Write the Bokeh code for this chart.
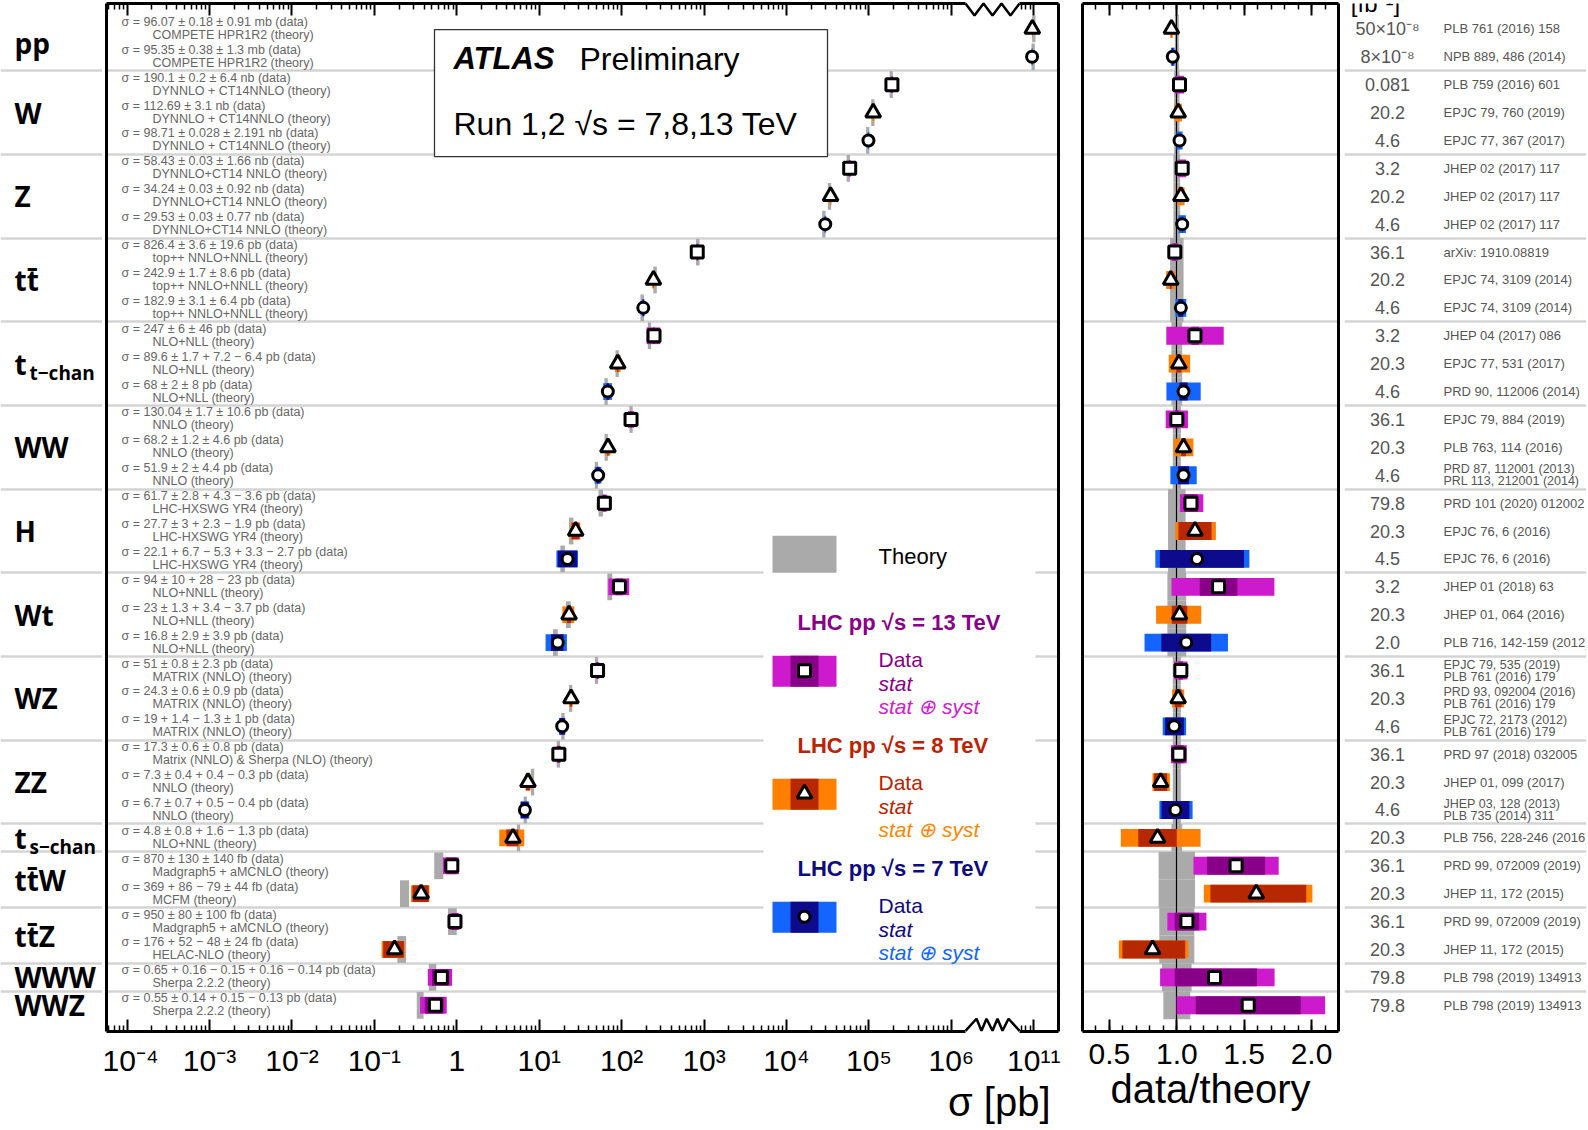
import numpy as np
from bokeh.plotting import figure
from bokeh.models import (Range1d, FixedTicker, LinearAxis, NumeralTickFormatter,
                          BoxAnnotation, ColumnDataSource)
from bokeh.layouts import row
from bokeh.embed import file_html
from bokeh.resources import INLINE
from bokeh.core.properties import value

# ---------------- data ----------------
group_labels = ["pp", "W", "Z", "tt\u0304", "t", "WW", "H", "Wt", "WZ", "ZZ", "t",
                "tt\u0304W", "tt\u0304Z", "WWW", "WWZ"]
group_subscripts = ["", "", "", "", "t\u2212chan", "", "", "", "", "", "s\u2212chan",
                    "", "", "", ""]
group_sizes = [2, 3, 3, 3, 3, 3, 3, 3, 3, 3, 1, 2, 2, 1, 1]

energy_tev = [8, 7, 13, 8, 7, 13, 8, 7, 13, 8, 7, 13, 8, 7, 13, 8, 7, 13, 8, 7,
              13, 8, 7, 13, 8, 7, 13, 8, 7, 8, 13, 8, 13, 8, 13, 13]

xsec_pb = [96.07e9, 95.35e9, 190.1e3, 112.69e3, 98.71e3, 58.43e3, 34.24e3, 29.53e3,
           826.4, 242.9, 182.9, 247.0, 89.6, 68.0, 130.04, 68.2, 51.9,
           61.7, 27.7, 22.1, 94.0, 23.0, 16.8, 51.0, 24.3, 19.0, 17.3, 7.3, 6.7,
           4.8, 0.870, 0.369, 0.950, 0.176, 0.65, 0.55]
stat_up_pb = [0.18e9, 0.38e9, 0.2e3, 0.0, 0.028e3, 0.03e3, 0.03e3, 0.03e3,
              3.6, 1.7, 3.1, 6.0, 1.7, 2.0, 1.7, 1.2, 2.0,
              2.8, 3.0, 6.7, 10.0, 1.3, 2.9, 0.8, 0.6, 1.4, 0.6, 0.4, 0.7,
              0.8, 0.130, 0.086, 0.080, 0.052, 0.16, 0.14]
stat_dn_pb = [0.18e9, 0.38e9, 0.2e3, 0.0, 0.028e3, 0.03e3, 0.03e3, 0.03e3,
              3.6, 1.7, 3.1, 6.0, 1.7, 2.0, 1.7, 1.2, 2.0,
              2.8, 3.0, 5.3, 10.0, 1.3, 2.9, 0.8, 0.6, 1.3, 0.6, 0.4, 0.7,
              0.8, 0.130, 0.079, 0.080, 0.048, 0.15, 0.14]
syst_up_pb = [0.91e9, 1.3e9, 6.4e3, 3.1e3, 2.191e3, 1.66e3, 0.92e3, 0.77e3,
              19.6, 8.6, 6.4, 46.0, 7.2, 8.0, 10.6, 4.6, 4.4,
              4.3, 2.3, 3.3, 28.0, 3.4, 3.9, 2.3, 0.9, 1.0, 0.8, 0.4, 0.5,
              1.6, 0.140, 0.044, 0.100, 0.024, 0.16, 0.15]
syst_dn_pb = [0.91e9, 1.3e9, 6.4e3, 3.1e3, 2.191e3, 1.66e3, 0.92e3, 0.77e3,
              19.6, 8.6, 6.4, 46.0, 6.4, 8.0, 10.6, 4.6, 4.4,
              3.6, 1.9, 2.7, 23.0, 3.7, 3.9, 2.3, 0.9, 1.0, 0.8, 0.3, 0.4,
              1.3, 0.140, 0.044, 0.100, 0.024, 0.14, 0.13]
data_over_theory = [0.96, 0.97, 1.02, 1.01, 1.02, 1.04, 1.03, 1.04, 0.985, 0.955,
                    1.03, 1.135, 1.015, 1.05, 1.0, 1.05, 1.05, 1.105, 1.135, 1.15,
                    1.31, 1.02, 1.07, 1.03, 1.01, 0.98, 1.015, 0.88, 0.99, 0.857,
                    1.44, 1.59, 1.075, 0.82, 1.28, 1.53]
theory_rel_unc = [0.015, 0.015, 0.02, 0.02, 0.02, 0.025, 0.025, 0.025, 0.05, 0.05,
                  0.05, 0.04, 0.04, 0.04, 0.03, 0.03, 0.03, 0.065, 0.065, 0.065,
                  0.07, 0.07, 0.07, 0.03, 0.03, 0.03, 0.03, 0.03, 0.03, 0.04,
                  0.135, 0.135, 0.13, 0.13, 0.11, 0.10]

data_text = [
    "\u03c3 = 96.07 \u00b1 0.18 \u00b1 0.91 mb (data)",
    "\u03c3 = 95.35 \u00b1 0.38 \u00b1 1.3 mb (data)",
    "\u03c3 = 190.1 \u00b1 0.2 \u00b1 6.4 nb (data)",
    "\u03c3 = 112.69 \u00b1 3.1 nb (data)",
    "\u03c3 = 98.71 \u00b1 0.028 \u00b1 2.191 nb (data)",
    "\u03c3 = 58.43 \u00b1 0.03 \u00b1 1.66 nb (data)",
    "\u03c3 = 34.24 \u00b1 0.03 \u00b1 0.92 nb (data)",
    "\u03c3 = 29.53 \u00b1 0.03 \u00b1 0.77 nb (data)",
    "\u03c3 = 826.4 \u00b1 3.6 \u00b1 19.6 pb (data)",
    "\u03c3 = 242.9 \u00b1 1.7 \u00b1 8.6 pb (data)",
    "\u03c3 = 182.9 \u00b1 3.1 \u00b1 6.4 pb (data)",
    "\u03c3 = 247 \u00b1 6 \u00b1 46 pb (data)",
    "\u03c3 = 89.6 \u00b1 1.7 + 7.2 \u2212 6.4 pb (data)",
    "\u03c3 = 68 \u00b1 2 \u00b1 8 pb (data)",
    "\u03c3 = 130.04 \u00b1 1.7 \u00b1 10.6 pb (data)",
    "\u03c3 = 68.2 \u00b1 1.2 \u00b1 4.6 pb (data)",
    "\u03c3 = 51.9 \u00b1 2 \u00b1 4.4 pb (data)",
    "\u03c3 = 61.7 \u00b1 2.8 + 4.3 \u2212 3.6 pb (data)",
    "\u03c3 = 27.7 \u00b1 3 + 2.3 \u2212 1.9 pb (data)",
    "\u03c3 = 22.1 + 6.7 \u2212 5.3 + 3.3 \u2212 2.7 pb (data)",
    "\u03c3 = 94 \u00b1 10 + 28 \u2212 23 pb (data)",
    "\u03c3 = 23 \u00b1 1.3 + 3.4 \u2212 3.7 pb (data)",
    "\u03c3 = 16.8 \u00b1 2.9 \u00b1 3.9 pb (data)",
    "\u03c3 = 51 \u00b1 0.8 \u00b1 2.3 pb (data)",
    "\u03c3 = 24.3 \u00b1 0.6 \u00b1 0.9 pb (data)",
    "\u03c3 = 19 + 1.4 \u2212 1.3 \u00b1 1 pb (data)",
    "\u03c3 = 17.3 \u00b1 0.6 \u00b1 0.8 pb (data)",
    "\u03c3 = 7.3 \u00b1 0.4 + 0.4 \u2212 0.3 pb (data)",
    "\u03c3 = 6.7 \u00b1 0.7 + 0.5 \u2212 0.4 pb (data)",
    "\u03c3 = 4.8 \u00b1 0.8 + 1.6 \u2212 1.3 pb (data)",
    "\u03c3 = 870 \u00b1 130 \u00b1 140 fb (data)",
    "\u03c3 = 369 + 86 \u2212 79 \u00b1 44 fb (data)",
    "\u03c3 = 950 \u00b1 80 \u00b1 100 fb (data)",
    "\u03c3 = 176 + 52 \u2212 48 \u00b1 24 fb (data)",
    "\u03c3 = 0.65 + 0.16 \u2212 0.15 + 0.16 \u2212 0.14 pb (data)",
    "\u03c3 = 0.55 \u00b1 0.14 + 0.15 \u2212 0.13 pb (data)",
]
theory_text = [
    "COMPETE HPR1R2 (theory)", "COMPETE HPR1R2 (theory)",
    "DYNNLO + CT14NNLO (theory)", "DYNNLO + CT14NNLO (theory)", "DYNNLO + CT14NNLO (theory)",
    "DYNNLO+CT14 NNLO (theory)", "DYNNLO+CT14 NNLO (theory)", "DYNNLO+CT14 NNLO (theory)",
    "top++ NNLO+NNLL (theory)", "top++ NNLO+NNLL (theory)", "top++ NNLO+NNLL (theory)",
    "NLO+NLL (theory)", "NLO+NLL (theory)", "NLO+NLL (theory)",
    "NNLO (theory)", "NNLO (theory)", "NNLO (theory)",
    "LHC-HXSWG YR4 (theory)", "LHC-HXSWG YR4 (theory)", "LHC-HXSWG YR4 (theory)",
    "NLO+NNLL (theory)", "NLO+NLL (theory)", "NLO+NLL (theory)",
    "MATRIX (NNLO) (theory)", "MATRIX (NNLO) (theory)", "MATRIX (NNLO) (theory)",
    "Matrix (NNLO) & Sherpa (NLO) (theory)", "NNLO (theory)", "NNLO (theory)",
    "NLO+NNL (theory)",
    "Madgraph5 + aMCNLO (theory)", "MCFM (theory)",
    "Madgraph5 + aMCNLO (theory)", "HELAC-NLO (theory)",
    "Sherpa 2.2.2 (theory)", "Sherpa 2.2.2 (theory)",
]
lumi_text = ["50\u00d710\u207b\u2078", "8\u00d710\u207b\u2078", "0.081", "20.2", "4.6",
             "3.2", "20.2", "4.6", "36.1", "20.2", "4.6", "3.2", "20.3", "4.6",
             "36.1", "20.3", "4.6", "79.8", "20.3", "4.5", "3.2", "20.3", "2.0",
             "36.1", "20.3", "4.6", "36.1", "20.3", "4.6", "20.3", "36.1", "20.3",
             "36.1", "20.3", "79.8", "79.8"]
ref_line1 = ["PLB 761 (2016) 158", "NPB 889, 486 (2014)", "PLB 759 (2016) 601",
             "EPJC 79, 760 (2019)", "EPJC 77, 367 (2017)", "JHEP 02 (2017) 117",
             "JHEP 02 (2017) 117", "JHEP 02 (2017) 117", "arXiv: 1910.08819",
             "EPJC 74, 3109 (2014)", "EPJC 74, 3109 (2014)", "JHEP 04 (2017) 086",
             "EPJC 77, 531 (2017)", "PRD 90, 112006 (2014)", "EPJC 79, 884 (2019)",
             "PLB 763, 114 (2016)", "PRD 87, 112001 (2013)", "PRD 101 (2020) 012002",
             "EPJC 76, 6 (2016)", "EPJC 76, 6 (2016)", "JHEP 01 (2018) 63",
             "JHEP 01, 064 (2016)", "PLB 716, 142-159 (2012)", "EPJC 79, 535 (2019)",
             "PRD 93, 092004 (2016)", "EPJC 72, 2173 (2012)", "PRD 97 (2018) 032005",
             "JHEP 01, 099 (2017)", "JHEP 03, 128 (2013)", "PLB 756, 228-246 (2016)",
             "PRD 99, 072009 (2019)", "JHEP 11, 172 (2015)", "PRD 99, 072009 (2019)",
             "JHEP 11, 172 (2015)", "PLB 798 (2019) 134913", "PLB 798 (2019) 134913"]
ref_line2 = ["", "", "", "", "", "", "", "", "", "", "", "", "", "",
             "", "", "PRL 113, 212001 (2014)", "", "", "", "", "", "",
             "PLB 761 (2016) 179", "PLB 761 (2016) 179", "PLB 761 (2016) 179",
             "", "", "PLB 735 (2014) 311", "", "", "", "", "", "", ""]

x_major_ticks = [-4, -3, -2, -1, 0, 1, 2, 3, 4, 5, 6, 7]
x_major_labels = ["10\u207b\u2074", "10\u207b\u00b3", "10\u207b\u00b2", "10\u207b\u00b9", "1",
                  "10\u00b9", "10\u00b2", "10\u00b3", "10\u2074", "10\u2075", "10\u2076",
                  "10\u00b9\u00b9"]
ratio_major_ticks = [0.5, 1.0, 1.5, 2.0]
x_title = "\u03c3 [pb]"
ratio_title = "data/theory"

# ---------------- styling constants ----------------
OUTER = {13: "#CC1ACC", 8: "#FF8000", 7: "#1464FF"}
INNER = {13: "#880088", 8: "#B82800", 7: "#0E0A8C"}
TITLE = {13: "#880088", 8: "#BB2200", 7: "#0E0A80"}
LIGHT = {13: "#CC22CC", 8: "#FF8800", 7: "#1464FF"}
MARK = {13: "square", 8: "triangle", 7: "circle"}
MSIZE = {13: 12, 8: 15, 7: 11}
THEORY = "#AAAAAA"
SEP = "#D4D4D4"
FONT_NAME = "Liberation Sans"
FONT = value(FONT_NAME)
BOLDFONT = value("Open Sans")

H_ROW = 1128
MB_TOP, MB_BOT = 3, 97
XMIN, XMAX = -4.25, 7.3
YTOP, YBOT = -0.91, 35.94


def xb(px):   # reference pixel x -> left-panel axis units
    return XMIN + (px - 106.0) * (XMAX - XMIN) / 952.0


def yr(py):   # reference pixel y -> row units
    return (py - 28.35) / 27.89


def to_axis(v):  # log10 with the axis break (10^11 drawn where 10^7 would be)
    lv = np.log10(np.asarray(v, dtype=float))
    return np.where(lv > 8.5, lv - 4.0, lv)


# ---------------- derived ----------------
n = len(xsec_pb)
rows = np.arange(n, dtype=float)
xs = np.array(xsec_pb)
st_u, st_d = np.array(stat_up_pb), np.array(stat_dn_pb)
tot_u = np.hypot(st_u, np.array(syst_up_pb))
tot_d = np.hypot(st_d, np.array(syst_dn_pb))
rat = np.array(data_over_theory)
th = xs / rat
terr = np.array(theory_rel_unc)

ends = np.cumsum(group_sizes)
sep_rows = [float(v) for v in (ends[:-1] - 0.5)]
group_centers = [float(v) for v in (ends - np.array(group_sizes) + (np.array(group_sizes) - 1) / 2.0)]

outer_c = [OUTER[e] for e in energy_tev]
inner_c = [INNER[e] for e in energy_tev]
marks = [MARK[e] for e in energy_tev]
msize = [MSIZE[e] for e in energy_tev]

yrange = Range1d(YBOT, YTOP)

common = dict(output_backend="svg", toolbar_location=None, x_axis_type=None,
              y_axis_type=None, min_border_top=MB_TOP, min_border_bottom=MB_BOT,
              outline_line_color=None, background_fill_color="white",
              border_fill_color="white")

axis_style = dict(axis_line_width=3, axis_line_color="black",
                  major_tick_in=12, major_tick_out=0, minor_tick_in=6, minor_tick_out=0,
                  major_tick_line_width=2, minor_tick_line_width=1.5,
                  major_tick_line_color="black", minor_tick_line_color="black")


def add_frame_axes(p, ticks, minor, title, formatter=None, overrides=None):
    below = LinearAxis(ticker=FixedTicker(ticks=ticks, minor_ticks=minor),
                       major_label_standoff=12, major_label_text_font=FONT_NAME,
                       major_label_text_font_size="30px", major_label_text_color="black",
                       axis_label=title,
                       axis_label_text_font=FONT_NAME, axis_label_text_font_size="40px",
                       axis_label_text_font_style="normal", axis_label_standoff=0,
                       axis_label_text_color="black", **axis_style)
    if formatter is not None:
        below.formatter = formatter
    if overrides is not None:
        below.major_label_overrides = overrides
    p.add_layout(below, "below")
    above = LinearAxis(ticker=FixedTicker(ticks=ticks, minor_ticks=minor),
                       major_label_text_color=None, major_label_standoff=0, **axis_style)
    p.add_layout(above, "above")
    for side in ("left", "right"):
        ax = LinearAxis(ticker=FixedTicker(ticks=[], minor_ticks=[]),
                        major_label_text_color=None, major_label_standoff=0,
                        axis_line_width=3, axis_line_color="black",
                        major_tick_in=0, major_tick_out=0, minor_tick_in=0, minor_tick_out=0)
        p.add_layout(ax, side)


# ---------------- A: process labels ----------------
pA = figure(width=102, height=H_ROW, x_range=Range1d(0, 102), y_range=yrange,
            min_border_left=0, min_border_right=0, **common)
pA.hspan(y=sep_rows, line_color=SEP, line_width=2.5)
pA.text(x=[14] * len(group_labels), y=group_centers, text=group_labels,
        text_font=BOLDFONT, text_font_style="bold", text_font_size="28px",
        text_baseline="middle", text_align="left", text_color="black")
sub_idx = [i for i, s in enumerate(group_subscripts) if s]
pA.text(x=[29] * len(sub_idx), y=[group_centers[i] for i in sub_idx],
        text=[group_subscripts[i] for i in sub_idx], y_offset=9,
        text_font=BOLDFONT, text_font_style="bold", text_font_size="19px",
        text_baseline="middle", text_align="left", text_color="black")

# ---------------- B: cross sections ----------------
pB = figure(width=968, height=H_ROW, x_range=Range1d(XMIN, XMAX), y_range=yrange,
            min_border_left=4, min_border_right=12, **common)
minor_B = [float(d + np.log10(k)) for d in range(-5, 7) for k in range(2, 10)
           if XMIN < d + np.log10(k) < 6.8] + [float(6 + np.log10(k)) for k in (7, 8, 9)]
# the title sits at the right end of the panel: pad it with no-break spaces
add_frame_axes(pB, x_major_ticks, minor_B, "\u00a0" * 75 + x_title,
               overrides={t: l for t, l in zip(x_major_ticks, x_major_labels)})
pB.hspan(y=sep_rows, line_color=SEP, line_width=2.5)

# theory bars (grey)
th_c = to_axis(th)
th_hw = np.maximum(np.log10(1 + terr), 0.02)
pB.quad(left=th_c - th_hw, right=th_c + th_hw, top=rows - 0.48, bottom=rows + 0.48,
        fill_color=THEORY, line_color=None)
# total and stat uncertainties
pB.quad(left=to_axis(xs - tot_d), right=to_axis(xs + tot_u), top=rows - 0.3,
        bottom=rows + 0.3, fill_color=outer_c, line_color=None)
pB.quad(left=to_axis(np.maximum(xs - st_d, 1e-9)), right=to_axis(xs + st_u), top=rows - 0.3,
        bottom=rows + 0.3, fill_color=inner_c, line_color=None)
srcB = ColumnDataSource(dict(x=to_axis(xs), y=rows, marker=marks, size=msize))
pB.scatter(x="x", y="y", marker="marker", size="size", source=srcB,
           fill_color="white", line_color="black", line_width=3)

# row texts
pB.text(x=[XMIN] * n, y=rows, text=data_text, x_offset=15, y_offset=-7,
        text_font=FONT, text_font_size="12.5px", text_color="#666666",
        text_baseline="middle", text_align="left")
pB.text(x=[XMIN] * n, y=rows, text=theory_text, x_offset=46, y_offset=6,
        text_font=FONT, text_font_size="12.5px", text_color="#666666",
        text_baseline="middle", text_align="left")

# ATLAS box
pB.quad(left=[xb(434)], right=[xb(827)], top=[yr(29)], bottom=[yr(156)],
        fill_color="white", line_color="#333333", line_width=1.3)
pB.text(x=[xb(453)], y=[yr(58)], text=["ATLAS"], text_font=FONT,
        text_font_style="bold italic", text_font_size="31px", text_baseline="middle")
pB.text(x=[xb(579)], y=[yr(58)], text=["Preliminary"], text_font=FONT,
        text_font_size="32px", text_baseline="middle")
pB.text(x=[xb(453)], y=[yr(123)], text=["Run 1,2  \u221as = 7,8,13 TeV"], text_font=FONT,
        text_font_size="32px", text_baseline="middle")

# legend
pB.quad(left=[xb(763)], right=[xb(1035)], top=[yr(522)], bottom=[yr(960)],
        fill_color="white", line_color=None)
pB.quad(left=[xb(772)], right=[xb(836)], top=[yr(535)], bottom=[yr(572)],
        fill_color=THEORY, line_color=None)
pB.text(x=[xb(878)], y=[yr(556)], text=["Theory"], text_font=FONT,
        text_font_size="22px", text_baseline="middle", text_color="black")
for e, ytitle in ((13, 622), (8, 745), (7, 868)):
    pB.text(x=[xb(797)], y=[yr(ytitle)], text=["LHC pp  \u221as = %d TeV" % e],
            text_font=FONT, text_font_style="bold", text_font_size="22px",
            text_baseline="middle", text_color=TITLE[e])
    ys = ytitle + 48
    pB.quad(left=[xb(772)], right=[xb(836)], top=[yr(ys - 15)], bottom=[yr(ys + 16)],
            fill_color=OUTER[e], line_color=None)
    pB.quad(left=[xb(790)], right=[xb(818)], top=[yr(ys - 15)], bottom=[yr(ys + 16)],
            fill_color=INNER[e], line_color=None)
    pB.scatter(x=[xb(804)], y=[yr(ys)], marker=MARK[e], size=MSIZE[e],
               fill_color="white", line_color="black", line_width=3)
    pB.text(x=[xb(878)], y=[yr(ytitle + 37)], text=["Data"], text_font=FONT,
            text_font_size="21px", text_baseline="middle", text_color=TITLE[e])
    pB.text(x=[xb(878)], y=[yr(ytitle + 61)], text=["stat"], text_font=FONT,
            text_font_style="italic", text_font_size="21px", text_baseline="middle",
            text_color=TITLE[e])
    pB.text(x=[xb(878)], y=[yr(ytitle + 84)], text=["stat \u2295 syst"], text_font=FONT,
            text_font_style="italic", text_font_size="21px", text_baseline="middle",
            text_color=LIGHT[e])

# axis break: white covers (glyph on overlay level + box annotation) and zigzags
bx0, bx1 = xb(965), xb(1019)
pB.quad(left=[bx0], right=[bx1], top=[YTOP - 0.2], bottom=[yr(14)],
        fill_color="white", line_color=None, level="overlay")
pB.quad(left=[bx0], right=[bx1], top=[yr(1019)], bottom=[YBOT + 0.2],
        fill_color="white", line_color=None, level="overlay")
pB.add_layout(BoxAnnotation(left=bx0, right=bx1, top=YTOP - 0.4, bottom=yr(14),
                            fill_color="white", fill_alpha=1.0, line_color=None))
pB.add_layout(BoxAnnotation(left=bx0, right=bx1, top=yr(1019), bottom=YBOT + 0.4,
                            fill_color="white", fill_alpha=1.0, line_color=None))
top_px = [(965, 3), (974, 15), (983, 3), (992, 15), (1001, 3), (1010, 15), (1019, 3)]
bot_px = [(965, 1030), (976, 1018), (981, 1030), (986, 1018), (992, 1030), (997, 1018),
          (1002, 1030), (1008, 1018), (1019, 1030)]
for pts in (top_px, bot_px):
    pB.line(x=[xb(a) for a, b in pts], y=[yr(b) for a, b in pts],
            line_color="black", line_width=2.5, level="overlay")

# ---------------- C: data / theory ----------------
pC = figure(width=274, height=H_ROW, x_range=Range1d(0.3, 2.2), y_range=yrange,
            min_border_left=12, min_border_right=6, **common)
add_frame_axes(pC, ratio_major_ticks, [round(0.4 + 0.1 * i, 1) for i in range(18)],
               ratio_title, formatter=NumeralTickFormatter(format="0.0"))
pC.hspan(y=sep_rows, line_color=SEP, line_width=2.5)
pC.quad(left=1 - terr, right=1 + terr, top=rows - 0.5, bottom=rows + 0.5,
        fill_color=THEORY, line_color=None)
pC.vspan(x=[1.0], line_color="black", line_width=1.2)
pC.quad(left=rat * (1 - tot_d / xs), right=rat * (1 + tot_u / xs), top=rows - 0.32,
        bottom=rows + 0.32, fill_color=outer_c, line_color=None)
pC.quad(left=rat * (1 - st_d / xs), right=rat * (1 + st_u / xs), top=rows - 0.32,
        bottom=rows + 0.32, fill_color=inner_c, line_color=None)
srcC = ColumnDataSource(dict(x=rat, y=rows, marker=marks, size=msize))
pC.scatter(x="x", y="y", marker="marker", size="size", source=srcC,
           fill_color="white", line_color="black", line_width=3)

# ---------------- D: luminosity and references ----------------
pD = figure(width=242, height=H_ROW, x_range=Range1d(0, 242), y_range=yrange,
            min_border_left=0, min_border_right=0, **common)
pD.hspan(y=sep_rows, line_color=SEP, line_width=2.5)
pD.text(x=[31], y=[YTOP], text=["[fb\u207b\u00b9]"], text_font=FONT, text_font_size="24px",
        text_align="center", text_baseline="middle", text_color="black")
pD.text(x=[43] * n, y=rows, text=lumi_text, text_font=FONT, text_font_size="18px",
        text_align="center", text_baseline="middle", text_color="#555555")
one = [i for i in range(n) if not ref_line2[i]]
two = [i for i in range(n) if ref_line2[i]]
pD.text(x=[99] * len(one), y=rows[one], text=[ref_line1[i] for i in one], text_font=FONT,
        text_font_size="13px", text_baseline="middle", text_color="#555555")
pD.text(x=[99] * len(two), y=rows[two], text=[ref_line1[i] for i in two], y_offset=-6,
        text_font=FONT, text_font_size="12.5px", text_baseline="middle", text_color="#555555")
pD.text(x=[99] * len(two), y=rows[two], text=[ref_line2[i] for i in two], y_offset=6,
        text_font=FONT, text_font_size="12.5px", text_baseline="middle", text_color="#555555")

layout = row(pA, pB, pC, pD, spacing=0)
open("out.html", "w").write(file_html(layout, INLINE))
